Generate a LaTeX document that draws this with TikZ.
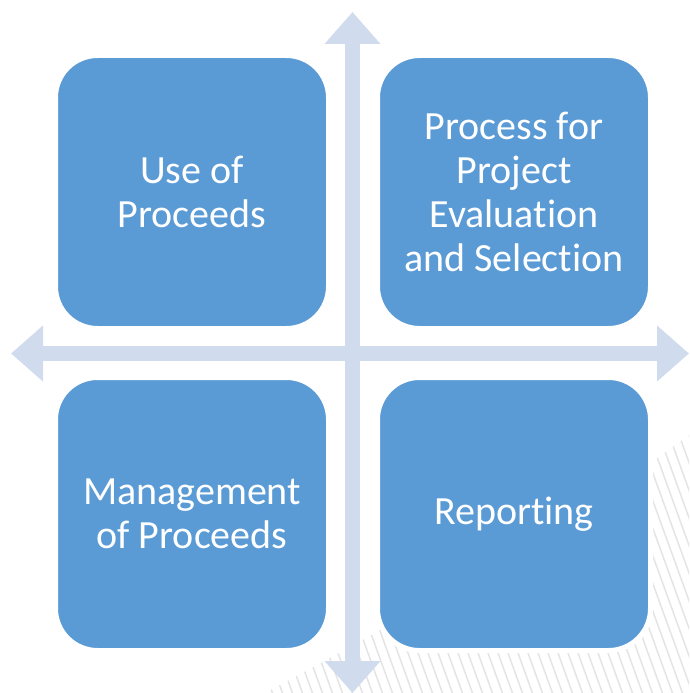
\documentclass[tikz,border=0pt]{standalone}
\usepackage{fontspec}
\setmainfont[Ligatures=NoCommon]{Carlito}
\usetikzlibrary{arrows.meta}

\definecolor{quadblue}{HTML}{5B9BD5}
\definecolor{axisblue}{HTML}{D0DCEE}
\definecolor{hatchgray}{HTML}{E4E4E4}

\tikzset{
  quad/.style={fill=quadblue, draw=white, line width=5pt, rounded corners=42pt,
    minimum width=273pt, minimum height=273pt, text=white, align=center,
    font=\fontsize{40}{44}\selectfont},
  axisarrow/.style={axisblue, line width=15pt,
    {Triangle[width=54pt,length=32pt]}-{Triangle[width=54pt,length=32pt]}},
  hatchline/.style={hatchgray, line width=1.5pt}
}

\begin{document}
\begin{tikzpicture}[x=1pt,y=-1pt]
			\useasboundingbox (0,0) rectangle (689,693);
			
			%%%%% hatched corner %%%%%
			\begin{scope}
				\clip (265,693) .. controls (420,610) and (560,530) .. (689,435) -- (689,693) -- cycle;
				\foreach \x in {150,160,...,780}
					\draw[hatchline] (\x,410) -- ++(105,290);
			\end{scope}
			
			%%%%% axes %%%%%
			\coordinate (top) at (352.5,12);
			\coordinate (bottom) at (352.5,693);
			\coordinate (left) at (11,353.5);
			\coordinate (right) at (689,353.5);
			\draw[axisarrow] (bottom) -- (top);
			\draw[axisarrow] (left) -- (right);
			
			%%%%% quadrants %%%%%
			\node[quad] (use) at (192,192) {Use of\\Proceeds};
			\node[quad] (process) at (514,192) {Process for\\Project\\Evaluation\\and Selection};
			\node[quad] (manage) at (192,514) {Management\\of Proceeds};
			\node[quad] (report) at (514,514) {Reporting};
		\end{tikzpicture}
\end{document}
